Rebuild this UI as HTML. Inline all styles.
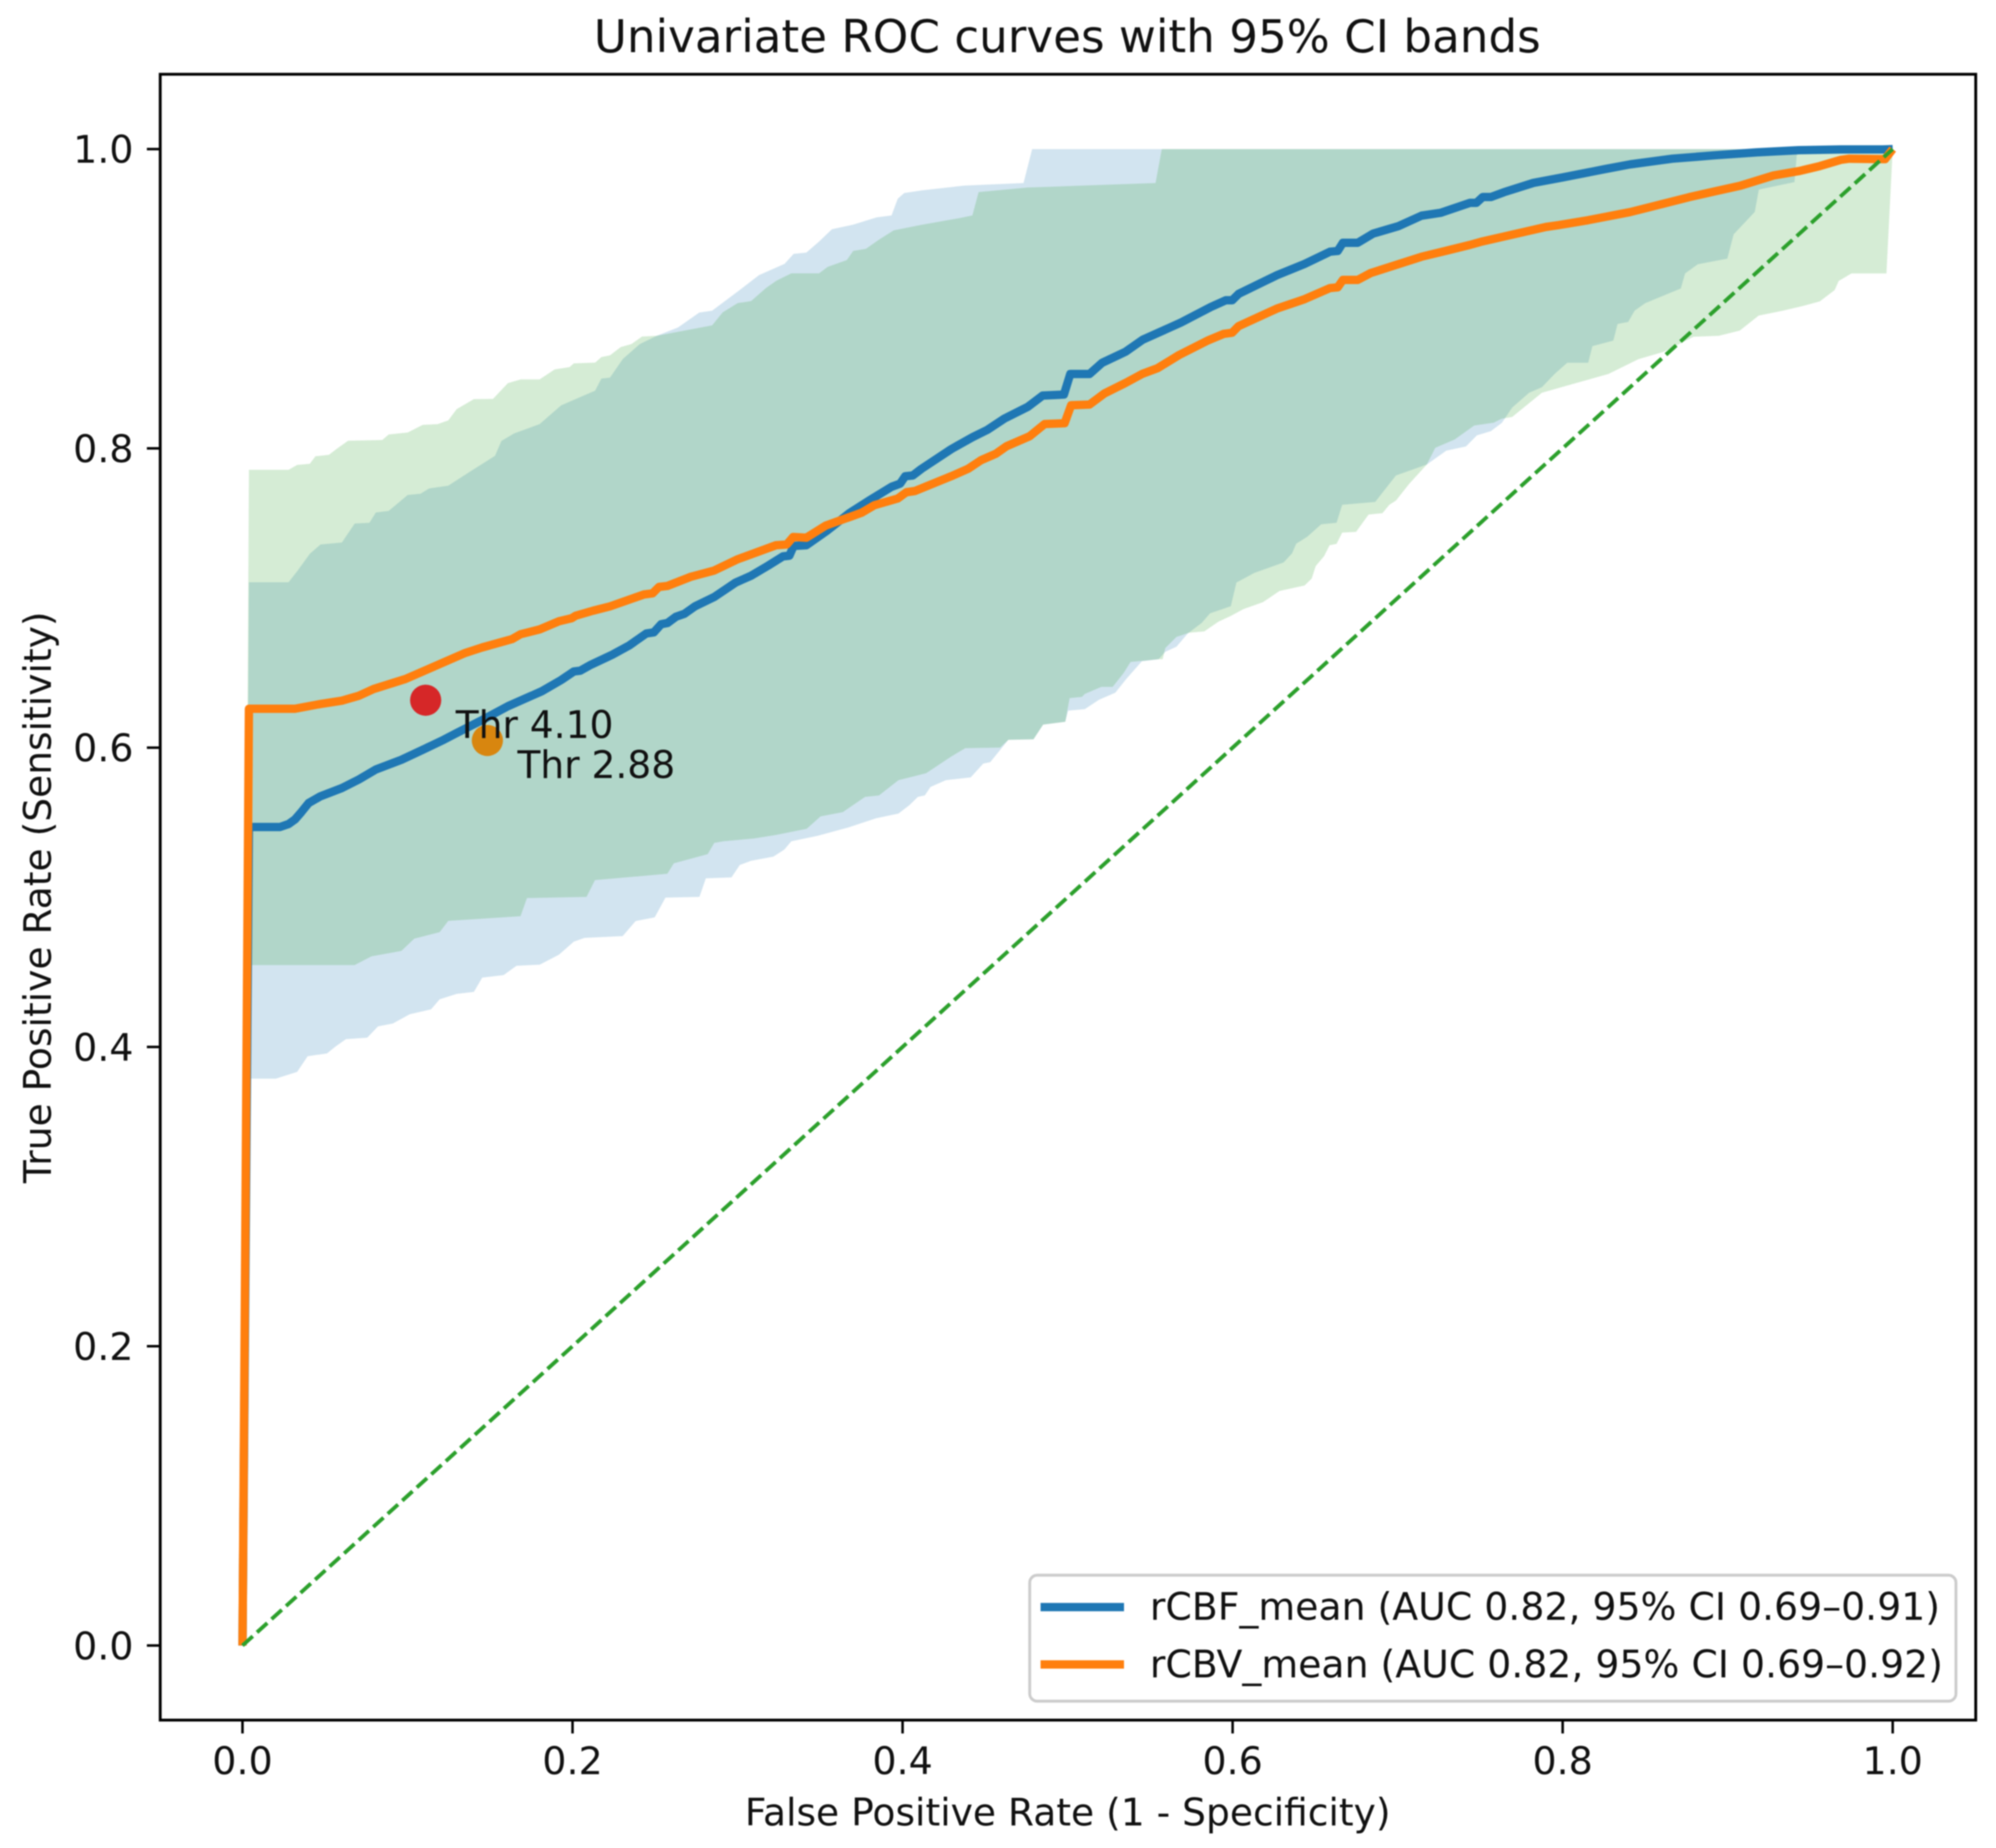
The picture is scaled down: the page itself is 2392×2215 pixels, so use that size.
<!DOCTYPE html>
<html lang="en">
<head>
<meta charset="utf-8">
<title>Univariate ROC curves with 95% CI bands</title>
<style>
html,body{margin:0;padding:0;background:#fff;}
svg{display:block;filter:blur(0.7px);}
text{font-family:"DejaVu Sans","Liberation Sans",sans-serif;fill:#111;}
</style>
</head>
<body>
<svg id="chart" xmlns="http://www.w3.org/2000/svg" width="2392" height="2215" viewBox="0 0 2392 2215">
  <rect x="0" y="0" width="2392" height="2215" fill="#fff"/>
  <g id="plot"></g>
  <rect x="192" y="89" width="2175.7" height="1972.7" fill="none" stroke="#000" stroke-width="3.4"/>
  <g id="axes"></g>
  <text x="1279" y="62.5" text-anchor="middle" font-size="54.2">Univariate ROC curves with 95% CI bands</text>
  <text x="1279.5" y="2188" text-anchor="middle" font-size="45.05">False Positive Rate (1 - Specificity)</text>
  <text transform="translate(61,1075.5) rotate(-90)" text-anchor="middle" font-size="45.05">True Positive Rate (Sensitivity)</text>
  <g>
    <rect x="1234" y="1888" width="1110" height="151" rx="9" ry="9" fill="#fff" fill-opacity="0.8" stroke="#ccc" stroke-width="3.4"/>
    <line x1="1247" y1="1926.3" x2="1347" y2="1926.3" stroke="#1f77b4" stroke-width="10"/>
    <text x="1378" y="1941.5" font-size="45.3">rCBF_mean (AUC 0.82, 95% CI 0.69–0.91)</text>
    <line x1="1247" y1="1995" x2="1347" y2="1995" stroke="#ff7f0e" stroke-width="10"/>
    <text x="1378" y="2010.5" font-size="45.3">rCBV_mean (AUC 0.82, 95% CI 0.69–0.92)</text>
  </g>
</svg>
<script>
const xTicks = [0, 0.2, 0.4, 0.6, 0.8, 1.0];
const yTicks = [0, 0.2, 0.4, 0.6, 0.8, 1.0];
const diagonal = [[0, 0], [1, 1]];
const thresholdRcbf = [0.111, 0.6317];
const thresholdRcbv = [0.1484, 0.6048];
const thresholdLabelRcbf = "Thr 4.10";
const thresholdLabelRcbv = "Thr 2.88";

const rcbfCurve = [[0,0],[.0039,.547],[.0228,.547],[.028,.549],[.0318,.552],[.0357,.557],[.0401,.563],[.0473,.5675],[.0602,.573],[.0705,.5787],[.0808,.5854],[.0963,.5919],[.1092,.5986],[.122,.6053],[.1298,.6098],[.1453,.6185],[.1608,.6277],[.1814,.6377],[.193,.6451],[.2008,.6509],[.2047,.6514],[.2111,.6554],[.224,.6621],[.2344,.6683],[.2447,.6763],[.2493,.6771],[.2537,.6825],[.2576,.6833],[.2627,.6875],[.2679,.6895],[.2743,.6945],[.2859,.7007],[.2988,.7103],[.3082,.7149],[.3185,.7216],[.3275,.7278],[.3314,.7283],[.334,.7348],[.3417,.7353],[.3546,.7453],[.3675,.7565],[.3804,.7656],[.3933,.7743],[.3985,.7764],[.4016,.7814],[.4062,.7819],[.4114,.7863],[.4295,.7995],[.4424,.8075],[.4514,.8124],[.4617,.8199],[.4759,.8278],[.4849,.8353],[.4978,.836],[.5016,.8497],[.5133,.8497],[.521,.8572],[.5351,.8646],[.5455,.8726],[.5687,.8841],[.5868,.8945],[.5958,.899],[.5997,.899],[.6036,.9032],[.6268,.9157],[.6436,.9232],[.659,.9314],[.6637,.9319],[.6668,.9374],[.6758,.9374],[.6851,.9435],[.7005,.9485],[.7145,.9555],[.726,.9574],[.7439,.9641],[.7478,.9641],[.7516,.968],[.7567,.968],[.7644,.9712],[.7823,.9774],[.8002,.9811],[.8256,.9866],[.8409,.9898],[.8665,.9936],[.8919,.9958],[.9175,.9978],[.9431,.9993],[.9686,.9998],[.9941,.9998],[1,1]];

const rcbvCurve = [[0,0],[.0039,.626],[.0318,.626],[.0473,.6292],[.0602,.6314],[.0705,.6347],[.0795,.6392],[.0988,.6459],[.1221,.6571],[.135,.6633],[.1453,.667],[.1633,.6725],[.1685,.6758],[.1801,.679],[.1918,.6845],[.1995,.6865],[.202,.6882],[.2124,.6915],[.2227,.6944],[.2433,.7024],[.2485,.7031],[.2524,.7074],[.2575,.7081],[.2717,.7142],[.2859,.7184],[.3001,.7259],[.3233,.7353],[.3298,.7358],[.3337,.7408],[.3417,.7403],[.3533,.7483],[.3752,.757],[.3829,.762],[.3971,.7665],[.4023,.7707],[.4075,.7715],[.4295,.7814],[.4398,.7864],[.4475,.7921],[.4565,.7964],[.463,.8014],[.477,.8081],[.4861,.8163],[.4982,.8168],[.5021,.8288],[.5133,.8293],[.5223,.8367],[.5351,.8437],[.5455,.8499],[.5545,.8536],[.5674,.8623],[.5854,.8723],[.5945,.8765],[.5997,.8773],[.6036,.8817],[.6268,.8934],[.6436,.8997],[.659,.9071],[.6637,.9076],[.6668,.9126],[.6758,.9126],[.6835,.9171],[.7145,.9281],[.7285,.9318],[.7439,.936],[.7503,.938],[.7899,.948],[.7976,.9492],[.8155,.9525],[.8409,.9579],[.8767,.9679],[.8919,.9717],[.9073,.9754],[.9278,.9824],[.9431,.9853],[.9558,.9886],[.9686,.9928],[.9737,.9936],[.9954,.9933],[1,1]];

const rcbfUpper = [[0,0],[.0039,.7105],[.0279,.7105],[.0331,.7179],[.0408,.7296],[.0473,.7358],[.0602,.7371],[.068,.7498],[.0769,.7503],[.0808,.7572],[.0886,.7582],[.1001,.7689],[.1079,.7697],[.113,.7732],[.1247,.7751],[.1388,.7851],[.153,.795],[.1569,.805],[.1646,.81],[.18,.8162],[.1931,.8287],[.2021,.8331],[.2137,.8386],[.2175,.8466],[.2227,.8473],[.2305,.8598],[.2408,.8697],[.251,.8752],[.2639,.8808],[.2768,.8908],[.2846,.892],[.3014,.9059],[.313,.9158],[.3285,.9233],[.334,.93],[.3417,.9308],[.3494,.9382],[.3572,.9465],[.3701,.9495],[.3843,.9544],[.3933,.9557],[.3971,.9669],[.401,.9706],[.4114,.9724],[.4372,.9756],[.4733,.9773],[.4785,1],[1,1]];

const rcbfLower = [[0,0],[.0039,.3788],[.0202,.3788],[.0331,.3833],[.0395,.3938],[.0512,.3957],[.0563,.4002],[.0627,.4052],[.0756,.4062],[.0821,.4137],[.0911,.4157],[.1014,.4219],[.1143,.4251],[.1195,.4318],[.1298,.4355],[.1402,.4368],[.1453,.4463],[.1582,.448],[.166,.4542],[.1801,.455],[.1918,.4617],[.2008,.4704],[.2073,.4729],[.2304,.4741],[.2382,.4841],[.2498,.4866],[.2563,.4998],[.2769,.5003],[.2808,.5127],[.2963,.5133],[.3014,.5216],[.3082,.5244],[.3217,.5272],[.3284,.5319],[.3326,.5374],[.3486,.5411],[.3672,.5467],[.384,.5528],[.3975,.556],[.4042,.5616],[.4093,.5671],[.4135,.5681],[.4169,.5737],[.4262,.5783],[.4413,.5801],[.4489,.5894],[.4531,.5903],[.4641,.6052],[.4793,.6056],[.4852,.6154],[.4986,.6173],[.5003,.6248],[.5104,.6257],[.519,.632],[.5289,.6367],[.5357,.6461],[.545,.6577],[.5551,.6591],[.5592,.664],[.566,.6675],[.5728,.6763],[.5812,.6833],[.5863,.6898],[.5989,.6945],[.6023,.7103],[.6132,.7168],[.6309,.7238],[.636,.7298],[.6385,.7363],[.6453,.741],[.6537,.7493],[.663,.7503],[.6664,.7623],[.6864,.7642],[.699,.7819],[.7177,.7892],[.7295,.7985],[.7414,.8013],[.7481,.8087],[.7565,.8115],[.7632,.8171],[.7694,.8273],[.7797,.8372],[.7874,.8409],[.7951,.8497],[.8028,.8572],[.8155,.8572],[.818,.8683],[.8307,.872],[.8333,.8832],[.8397,.8845],[.8436,.892],[.85,.897],[.8716,.9069],[.8742,.9169],[.8819,.923],[.8998,.9268],[.9036,.943],[.9164,.958],[.9189,.9729],[.9405,.9779],[.9418,.9953],[.9431,1],[1,1]];

const rcbvUpper = [[0,0],[.0039,.7857],[.0279,.7857],[.0331,.7889],[.0408,.7897],[.0442,.7947],[.0524,.7957],[.0576,.8001],[.064,.8051],[.0847,.8056],[.0886,.8093],[.1001,.8106],[.1092,.8157],[.1182,.8162],[.1247,.8187],[.1298,.8262],[.1402,.8329],[.1518,.8331],[.1608,.8436],[.1686,.8461],[.18,.8461],[.1892,.8528],[.1982,.8543],[.2008,.8568],[.2137,.8573],[.2175,.861],[.2227,.8622],[.2292,.8677],[.2357,.8697],[.2421,.8747],[.251,.8752],[.2665,.8784],[.2846,.8822],[.291,.8909],[.3001,.8971],[.3082,.8984],[.3172,.9071],[.3236,.9121],[.3326,.917],[.3494,.917],[.3546,.9213],[.3662,.9258],[.3701,.932],[.3778,.9333],[.3856,.9394],[.3946,.9457],[.4114,.9494],[.4346,.9539],[.4423,.9557],[.4461,.9713],[.4758,.9743],[.5533,.9773],[.5571,1],[1,1]];

const rcbvLower = [[0,0],[.0039,.4547],[.0679,.4547],[.0782,.4605],[.0963,.4642],[.1041,.4724],[.1195,.4767],[.1247,.4842],[.1685,.4874],[.1724,.4995],[.2085,.5003],[.2136,.5115],[.2575,.5157],[.2614,.5227],[.2819,.5289],[.2859,.5364],[.2913,.5374],[.3098,.5393],[.3233,.5417],[.3419,.5458],[.3503,.5541],[.3638,.5569],[.3773,.5671],[.3857,.5681],[.3975,.5783],[.4143,.5829],[.4295,.5941],[.438,.5997],[.4591,.6001],[.4641,.6052],[.4793,.6056],[.4852,.6154],[.4986,.6173],[.5012,.6331],[.5087,.634],[.5104,.6359],[.5205,.6406],[.5273,.6406],[.534,.6499],[.5382,.6573],[.5551,.6591],[.5576,.6591],[.5592,.6666],[.566,.674],[.5736,.6768],[.5829,.6777],[.5914,.6842],[.5989,.688],[.6065,.6926],[.6184,.6972],[.6284,.7047],[.6436,.7084],[.6479,.713],[.6504,.7214],[.6554,.7279],[.6588,.7353],[.663,.7362],[.6664,.7437],[.6748,.7442],[.6824,.7558],[.6908,.7567],[.695,.7623],[.699,.7651],[.7069,.7762],[.7177,.7892],[.7228,.8004],[.7346,.806],[.7464,.8153],[.7582,.8172],[.763,.8198],[.7694,.821],[.7874,.8372],[.8077,.8435],[.8277,.8497],[.8459,.8596],[.8613,.8646],[.8793,.8746],[.8946,.8752],[.9073,.8787],[.9188,.8887],[.9329,.8919],[.9456,.8952],[.9558,.8982],[.9648,.9057],[.9673,.9119],[.975,.9169],[.9962,.9169],[1,1]];

const NS = "http://www.w3.org/2000/svg";
const sx = function (v) { return 290.6 + v * 1977.6; };
const sy = function (v) { return 1972.3 - v * 1793.6; };
const pts = function (a) { return a.map(function (p) { return sx(p[0]).toFixed(1) + "," + sy(p[1]).toFixed(1); }).join(" "); };
const plot = document.getElementById("plot");
const axes = document.getElementById("axes");

function mk(tag, parent, attrs, text) {
  const el = document.createElementNS(NS, tag);
  Object.keys(attrs).forEach(function (k) { el.setAttribute(k, attrs[k]); });
  if (text !== undefined) el.textContent = text;
  parent.appendChild(el);
  return el;
}

const bandBlue = mk("polygon", plot, { points: pts(rcbfUpper.concat(rcbfLower.slice().reverse())), fill: "#1f77b4", "fill-opacity": 0.2 });



const bandGreen = mk("polygon", plot, { points: pts(rcbvUpper.concat(rcbvLower.slice().reverse())), fill: "#2ca02c", "fill-opacity": 0.2 });



const lineBlue = mk("polyline", plot, { points: pts(rcbfCurve), fill: "none", stroke: "#1f77b4", "stroke-width": 10, "stroke-linejoin": "round" });



const lineOrange = mk("polyline", plot, { points: pts(rcbvCurve), fill: "none", stroke: "#ff7f0e", "stroke-width": 10, "stroke-linejoin": "round" });



const diagLine = mk("polyline", plot, { points: pts(diagonal), fill: "none", stroke: "#2ca02c", "stroke-width": 4.6, "stroke-dasharray": "16.6 6.9" });



const markerRed = mk("circle", plot, { cx: sx(thresholdRcbf[0]), cy: sy(thresholdRcbf[1]), r: 18.7, fill: "#d62728" });



const markerOrange = mk("circle", plot, { cx: sx(thresholdRcbv[0]), cy: sy(thresholdRcbv[1]), r: 18.7, fill: "#d8860f" });



const labelRed = mk("text", plot, { x: sx(thresholdRcbf[0]) + 36, y: sy(thresholdRcbf[1]) + 45, "font-size": 45 }, thresholdLabelRcbf);



const labelOrange = mk("text", plot, { x: sx(thresholdRcbv[0]) + 36, y: sy(thresholdRcbv[1]) + 45, "font-size": 45 }, thresholdLabelRcbv);



xTicks.forEach(function (v) {
  const t = mk("line", axes, { x1: sx(v), x2: sx(v), y1: 2061.7, y2: 2077.7, stroke: "#000", "stroke-width": 3 });
  
  
  const l = mk("text", axes, { x: sx(v), y: 2126.7, "text-anchor": "middle", "font-size": 45.5 }, v.toFixed(1));
  
  
});

yTicks.forEach(function (v) {
  const t = mk("line", axes, { x1: 176, x2: 192, y1: sy(v), y2: sy(v), stroke: "#000", "stroke-width": 3 });
  
  
  const l = mk("text", axes, { x: 160, y: sy(v) + 16.5, "text-anchor": "end", "font-size": 45.5 }, v.toFixed(1));
  
  
});
</script>
</body>
</html>
